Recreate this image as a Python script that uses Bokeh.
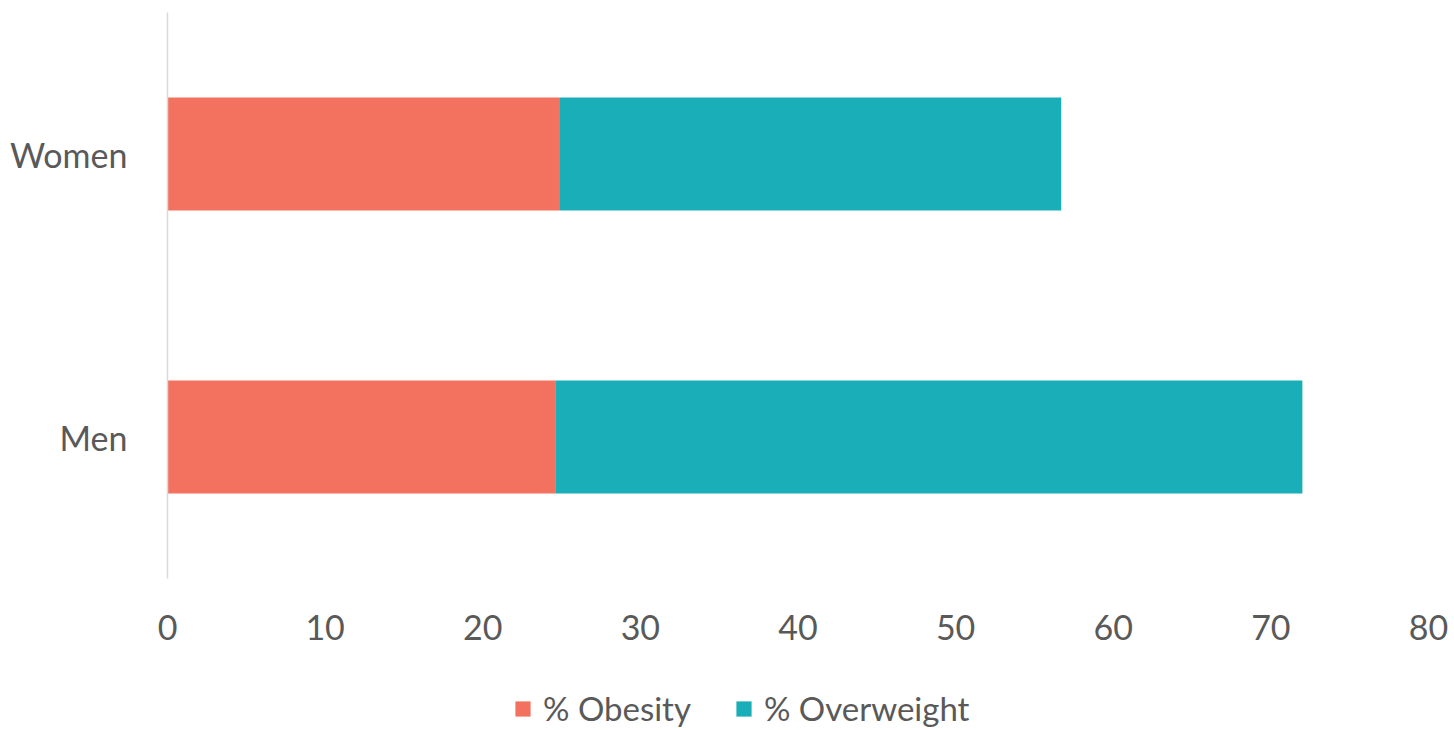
from bokeh.plotting import figure
from bokeh.layouts import column
from bokeh.models import FactorRange, Range1d, Legend, LegendItem, FixedTicker
from bokeh.embed import file_html
from bokeh.resources import INLINE

categories = ["Men", "Women"]
obesity = [24.6, 24.9]
overweight = [47.4, 31.8]
series = ["% Obesity", "% Overweight"]
colors = ["#F2725F", "#19AEB8"]
x_ticks = [0, 10, 20, 30, 40, 50, 60, 70, 80]

data = {"cat": categories, "% Obesity": obesity, "% Overweight": overweight}

FONT = "Lato"
GRAY = "#595959"

p = figure(width=1454, height=650, output_backend="svg", toolbar_location=None,
           y_range=FactorRange(*categories), x_range=Range1d(0, 80),
           min_border_left=167, min_border_right=26, min_border_top=12, min_border_bottom=72)
p.outline_line_color = None
p.xgrid.grid_line_color = None
p.ygrid.grid_line_color = None

rs = p.hbar_stack(series, y="cat", height=0.4, color=colors, source=data, line_color=None)

p.xaxis.ticker = FixedTicker(ticks=x_ticks)
p.xaxis.axis_line_color = None
p.xaxis.major_tick_line_color = None
p.xaxis.minor_tick_line_color = None
p.xaxis.major_label_standoff = 30
p.xaxis.major_label_text_font = FONT
p.xaxis.major_label_text_font_size = "34px"
p.xaxis.major_label_text_color = GRAY

p.yaxis.axis_line_color = "#D9D9D9"
p.yaxis.axis_line_width = 1.5
p.yaxis.major_tick_line_color = None
p.yaxis.minor_tick_line_color = None
p.yaxis.major_label_standoff = 34
p.yaxis.major_label_text_font = FONT
p.yaxis.major_label_text_font_size = "34px"
p.yaxis.major_label_text_color = GRAY

# legend strip below the chart
p2 = figure(width=1454, height=80, output_backend="svg", toolbar_location=None,
            x_range=Range1d(0, 80), y_range=FactorRange(*categories),
            x_axis_type=None, y_axis_type=None, min_border=0)
p2.outline_line_color = None
p2.xgrid.grid_line_color = None
p2.ygrid.grid_line_color = None
lr = p2.hbar_stack(series, y="cat", height=0.4, color=colors, source=data, line_color=None)
for r in lr:
    r.visible = False

legend = Legend(items=[LegendItem(label=s, renderers=[r]) for s, r in zip(series, lr)],
                orientation="horizontal", location=(346, 2),
                label_text_font=FONT, label_text_font_size="33px", label_text_color=GRAY,
                glyph_width=19, glyph_height=19, label_standoff=11, spacing=43,
                inactive_fill_alpha=0,
                border_line_color=None, background_fill_alpha=0, padding=2, margin=0)
p2.add_layout(legend, "center")

layout = column(p, p2, spacing=0)
open("out.html", "w").write(file_html(layout, INLINE))
